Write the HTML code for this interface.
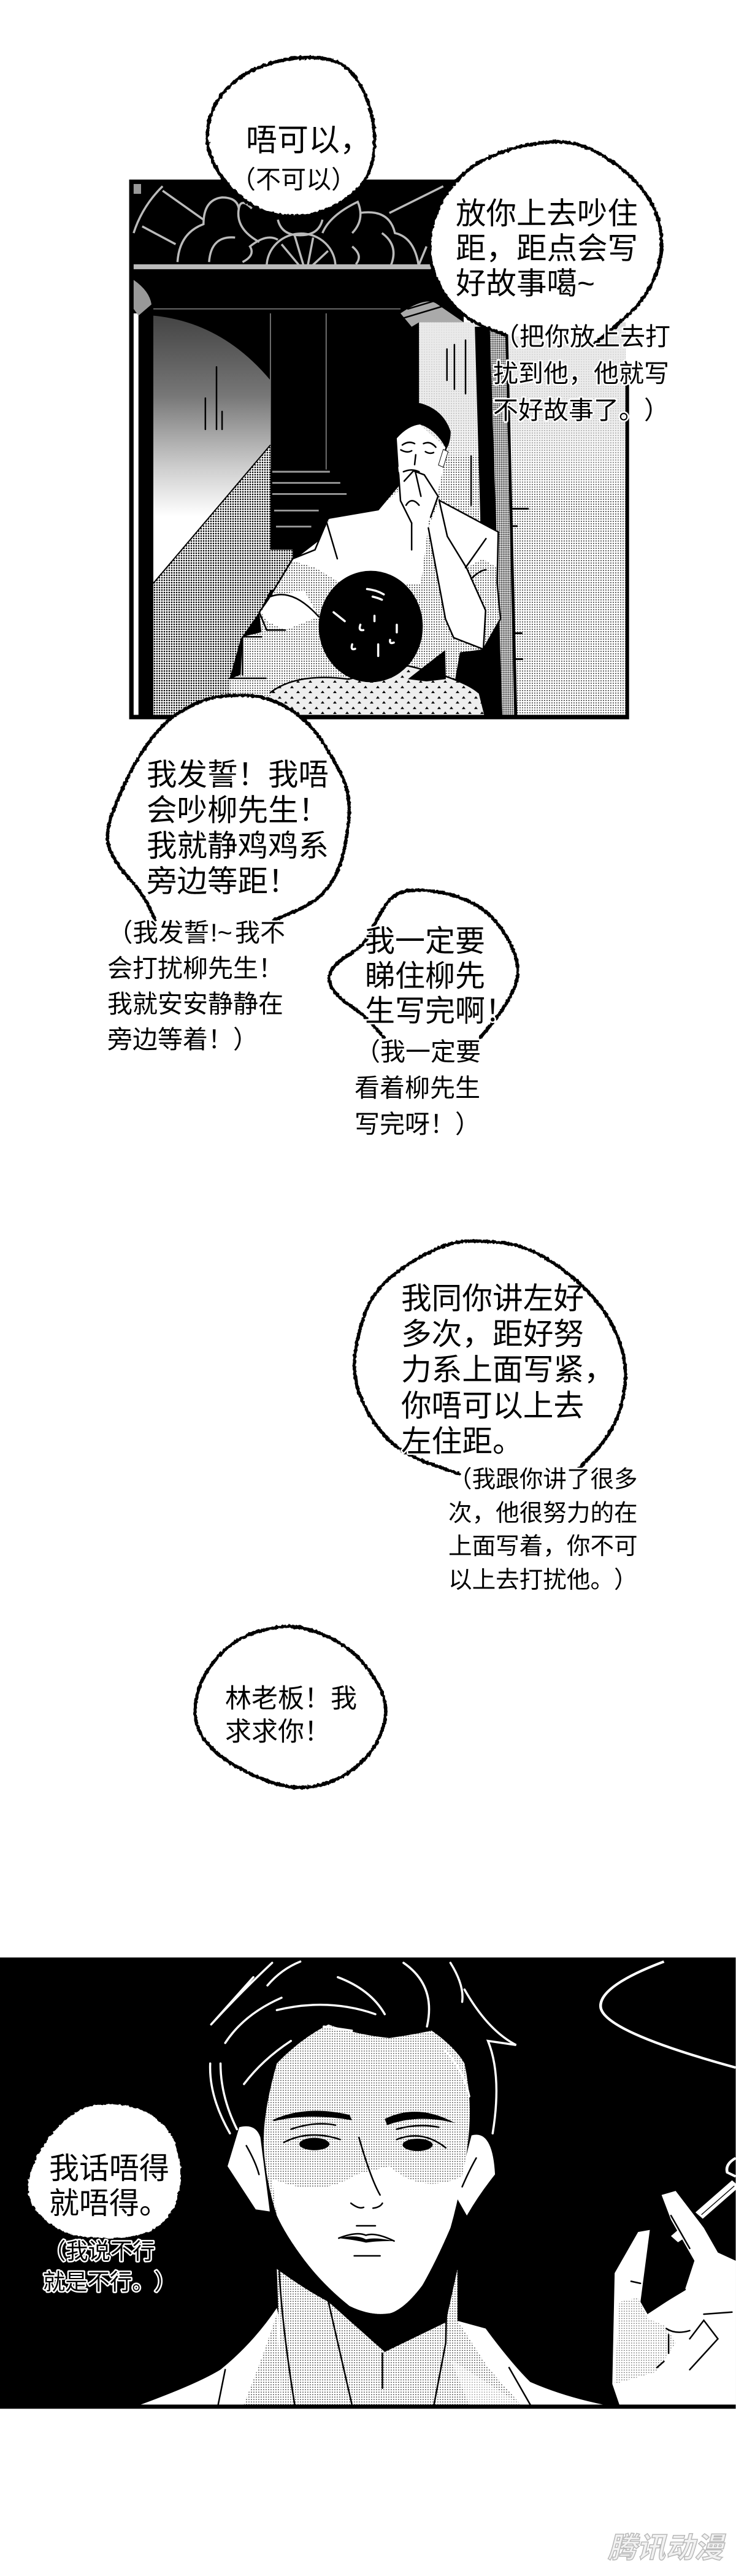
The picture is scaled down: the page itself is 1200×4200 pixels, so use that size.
<!DOCTYPE html>
<html lang="zh">
<head>
<meta charset="utf-8">
<title>Comic page</title>
<style>
html,body{margin:0;padding:0;background:#fff}
svg{display:block}
text{font-family:"Liberation Sans","Noto Sans CJK SC",sans-serif;fill:#000;text-spacing-trim:space-all;font-kerning:none}
.h{paint-order:stroke;stroke:#fff;stroke-width:5px;stroke-linejoin:round}
.bo{fill:none;stroke:#000;stroke-width:5.5;vector-effect:non-scaling-stroke;stroke-linecap:round}
.ln{fill:none;stroke:#000;stroke-width:2.5;vector-effect:non-scaling-stroke;stroke-linecap:round}
.gl{fill:none;stroke:#bbb;stroke-width:3.5;vector-effect:non-scaling-stroke}
.wl{fill:none;stroke:#fff;stroke-width:3.5;vector-effect:non-scaling-stroke;stroke-linecap:round}
</style>
</head>
<body>
<svg xmlns="http://www.w3.org/2000/svg" width="1200" height="4200" viewBox="0 0 1200 4200">
<defs>
<filter id="rough" x="-10%" y="-10%" width="120%" height="120%">
<feTurbulence type="fractalNoise" baseFrequency="0.12" numOctaves="3" seed="4"/>
<feDisplacementMap in="SourceGraphic" scale="8" xChannelSelector="R" yChannelSelector="G"/>
</filter>
<pattern id="l1" width="4" height="4" patternUnits="userSpaceOnUse" patternTransform="scale(1.65 1.375)"><rect width="4" height="4" fill="#fff"/><circle cx="2" cy="2" r=".92" fill="#000"/></pattern>
<pattern id="m1" width="4" height="4" patternUnits="userSpaceOnUse" patternTransform="scale(1.65 1.375)"><rect width="4" height="4" fill="#fff"/><circle cx="2" cy="2" r="1.3" fill="#000"/></pattern>
<pattern id="d1" width="3" height="3" patternUnits="userSpaceOnUse" patternTransform="scale(1.65 1.375)"><rect width="3" height="3" fill="#fff"/><circle cx="1.5" cy="1.5" r="1.05" fill="#000"/></pattern>
<pattern id="t1" width="20" height="17" patternUnits="userSpaceOnUse" patternTransform="scale(1.65 1.375)"><rect width="20" height="17" fill="#eee"/><path d="M3 8l3-4 3 4zM13 16l3-4 3 4z" fill="#000"/></pattern>
<pattern id="l4" width="4" height="4" patternUnits="userSpaceOnUse" patternTransform="scale(1.307 1.493)"><rect width="4" height="4" fill="#fff"/><circle cx="2" cy="2" r=".78" fill="#000"/></pattern>
<linearGradient id="wall" x1="0" y1="625" x2="0" y2="1075" gradientUnits="userSpaceOnUse"><stop offset="0" stop-color="#444"/><stop offset=".4" stop-color="#777"/><stop offset=".75" stop-color="#ccc"/><stop offset="1" stop-color="#fff"/></linearGradient>
<linearGradient id="fade" x1="0" y1="640" x2="0" y2="1040" gradientUnits="userSpaceOnUse"><stop offset="0" stop-color="#e8e8e8" stop-opacity=".95"/><stop offset=".55" stop-color="#e8e8e8" stop-opacity=".75"/><stop offset="1" stop-color="#fff" stop-opacity="0"/></linearGradient>
</defs>

<rect width="1200" height="4200" fill="#fff"/>

<!-- PANEL 1 -->
<g transform="translate(150 60) scale(.606 .7273)">
<path d="M100 320H1000V640H1435V780H1445V1530H100Z" fill="#000"/>
<rect x="112" y="620" width="13" height="900" fill="#fff"/>
<rect x="112" y="330" width="20" height="22" fill="#999"/>
<!-- fanlight -->
<path class="gl" d="M112 440Q135 380 190 335M135 425L225 465M190 345L300 410M230 505Q235 440 300 420Q300 365 350 360Q390 360 395 385Q385 430 450 460M315 505Q320 445 385 450M395 385Q400 360 430 385M500 410Q510 445 560 445Q610 445 620 410M620 440Q640 400 715 370Q735 410 700 440M720 395Q800 385 815 440Q870 450 880 520M800 520Q830 470 780 440M800 395L945 335M880 510L900 470"/>
<path class="gl" d="M470 515A90 72 0 0 1 655 515M560 515L510 465M570 515L545 445M580 515L595 450M590 515L635 480M405 505Q440 490 425 470Q470 440 500 455M700 470Q730 490 710 510"/>
<rect x="112" y="510" width="800" height="11" fill="#bbb"/>
<path d="M112 545Q155 570 160 600L125 625L112 610Z" fill="#999"/>
<path d="M165 610H830" stroke="#888" stroke-width="2" fill="none"/>
<path d="M480 620V970M630 620V970" stroke="#777" stroke-width="3" fill="none"/>
<!-- left wall -->
<path d="M165 625Q350 640 480 770V915L165 1225Z" fill="url(#wall)"/>
<path d="M165 1225L480 915V1240L450 1290L400 1350L370 1440V1520H165Z" fill="url(#m1)"/>
<path d="M165 1225L480 915" stroke="#000" stroke-width="3" fill="none"/>
<path class="ln" d="M335 740V880M305 810V880M350 840V880"/>
<!-- stairs -->
<path d="M485 975H640M485 1000H668M485 1025H685M490 1062H610M495 1098H590" stroke="#999" stroke-width="4" fill="none"/>
<rect x="480" y="1150" width="60" height="90" fill="url(#m1)"/>
<!-- steps -->
<path d="M405 1345L480 1330H620V1440H480V1520H370V1440L400 1430Z" fill="url(#l1)"/>
<path class="ln" d="M405 1345V1430M370 1438H480M405 1345H470"/>
<!-- column -->
<rect x="880" y="640" width="165" height="470" fill="url(#l1)"/>
<rect x="880" y="640" width="165" height="300" fill="url(#fade)"/>
<path class="ln" d="M955 700V770M975 690V790M1005 680V800M1020 940V1050"/>
<path d="M830 620Q900 580 930 600L1000 640H880L860 650Z" fill="#aaa"/>
<path class="ln" d="M850 610L930 590M840 630L960 600"/>
<!-- right wall -->
<rect x="1112" y="650" width="323" height="870" fill="url(#l1)"/>
<rect x="1112" y="640" width="323" height="400" fill="url(#fade)"/>
<!-- dark band + strip + line -->
<path d="M1030 650H1070L1104 1520H1060Z" fill="#000"/>
<path d="M1070 650H1112L1136 1520H1104Z" fill="url(#d1)"/>
<path d="M1112 650H1119L1144 1520H1136Z" fill="#000"/>
<path d="M1125 1058H1175M1130 1097H1145M1135 1337H1158M1137 1395H1160" stroke="#000" stroke-width="4"/>
<!-- man shirt (dotted base) -->
<path d="M635 1080L770 1060L825 1005L934 1039L1093 1110L1090 1224L1099 1305L1053 1373L990 1380L960 1520H480L450 1290L480 1250L540 1170L600 1150Z" fill="url(#l1)"/>
<!-- shirt white areas -->
<path d="M640 1080L770 1060L835 1010L905 1095L885 1225L700 1240L600 1190L540 1175L610 1130Z" fill="#fff"/>
<path d="M934 1039L1093 1110L1090 1190L1050 1170L1008 1191L956 1120Z" fill="#fff"/>
<path d="M905 1101L934 1039L956 1120L1008 1191L1059 1286L1053 1373L973 1347L951 1305Z" fill="#fff"/>
<path d="M480 1255L570 1240L610 1300L520 1330L470 1310L455 1290Z" fill="#fff"/>
<path class="ln" d="M635 1080L600 1150L540 1170L475 1260L450 1290L470 1330L520 1330M630 1080L770 1060L825 1005M630 1085L660 1170M934 1039L1093 1110L1090 1224L1099 1305L1053 1373L973 1347L951 1305L905 1101M934 1039L956 1120L1008 1191L1059 1286L1053 1373M480 1255Q540 1235 610 1300M1005 1190L1060 1125M1020 1215Q1045 1195 1060 1195M860 1090V1150"/>
<!-- neck + face -->
<path d="M825 960L950 950L925 1040L880 1100L830 1020Z" fill="#fff"/>
<path d="M815 885Q850 872 882 869L951 921L945 959L908 987L860 1000L825 975Z" fill="#fff"/>
<path d="M785 880Q810 830 882 821Q945 835 965 885Q965 915 945 935L951 921Q925 880 882 869Q850 872 820 900L825 965Q790 920 785 880Z" fill="#000"/>
<path d="M945 925L958 930L945 965L932 960Z" fill="#fff" stroke="#000" stroke-width="1.5"/>
<path class="ln" d="M835 915Q852 905 868 912M892 912Q910 905 925 920M831 926Q848 934 860 928M897 930Q908 936 919 932M871 937L868 959M838 975Q860 967 880 975"/>
<path d="M840 996L865 973L894 982L931 1030L911 1077L900 1095L860 1080L840 1050Z" fill="#fff"/>
<path class="ln" d="M840 996L865 973L894 982L931 1030L911 1077M845 1050Q860 1030 880 1050M870 975L885 1030M825 980L830 1040L860 1090"/>
<!-- boy -->
<path d="M480 1470Q550 1425 690 1440L850 1410Q1000 1440 1040 1470L1055 1520H480Z" fill="url(#t1)"/>
<path d="M850 1440L950 1375L952 1440L900 1445Z" fill="#000"/>
<ellipse cx="750" cy="1322" rx="140" ry="125" fill="#000"/>
<path class="wl" d="M760 1298V1310M722 1318Q716 1332 730 1330M820 1318V1335M700 1362Q695 1376 708 1372M770 1362V1388M802 1352Q800 1362 812 1358M740 1238Q765 1240 785 1250M755 1255Q770 1258 780 1262M650 1290L680 1310"/>
<path class="ln" d="M480 1470Q550 1425 690 1440L850 1410Q1000 1440 1040 1470"/>
</g>

<!-- BUBBLES panel 1 -->
<g transform="translate(150 60) scale(.606 .7273)">
<path filter="url(#rough)" class="bo" style="fill:#fff" d="M620 48Q680 55 710 92Q740 130 752 175Q765 220 757 265Q750 310 720 337Q690 365 640 385Q590 405 530 402Q470 400 425 375Q380 350 350 315Q320 280 312 245Q305 210 322 170Q340 130 385 100Q430 70 495 56Q560 42 620 48Z"/>
<g filter="url(#rough)">
<path fill="#fff" d="M1230 236Q1290 232 1345 253Q1400 275 1447 312Q1495 350 1515 390Q1535 430 1532 472Q1530 515 1505 555Q1480 595 1440 625Q1400 655 1370 675Q1340 695 1225 682Q1110 670 1055 650Q1000 630 965 595Q930 560 915 515Q900 470 915 425Q930 380 957 347Q985 315 1022 292Q1060 270 1115 255Q1170 240 1230 236Z"/>
<path class="bo" d="M1110 668L1055 650Q1000 630 965 595Q930 560 915 515Q900 470 915 425Q930 380 957 347Q985 315 1022 292Q1060 270 1115 255Q1170 240 1230 236Q1290 232 1345 253Q1400 275 1447 312Q1495 350 1515 390Q1535 430 1532 472Q1530 515 1505 555Q1480 595 1440 625Q1400 655 1350 690"/>
</g>
</g>

<!-- Bubble 3 + 4 -->
<g transform="translate(100 1120) scale(.51)">
<g filter="url(#rough)">
<path fill="#fff" d="M590 27Q660 30 720 65Q780 100 820 155Q860 210 895 280Q930 350 917 445Q905 540 882 590Q860 640 825 670Q790 700 735 722Q680 745 490 745Q300 745 280 702Q260 660 215 610Q170 560 155 520Q140 480 155 430Q170 380 205 305Q240 230 285 170Q330 110 380 80Q430 50 475 37Q520 25 590 27Z"/>
<path class="bo" d="M300 745L280 702Q260 660 215 610Q170 560 155 520Q140 480 155 430Q170 380 205 305Q240 230 285 170Q330 110 380 80Q430 50 475 37Q520 25 590 27Q660 30 720 65Q780 100 820 155Q860 210 895 280Q930 350 917 445Q905 540 882 590Q860 640 825 670Q790 700 735 722L680 745"/>
</g>
<g filter="url(#rough)">
<path fill="#fff" d="M1215 657Q1280 670 1330 700Q1380 730 1415 785Q1450 840 1457 885Q1465 930 1440 980Q1415 1030 1377 1075Q1340 1120 1185 1120Q1030 1120 1000 1085Q970 1050 925 1020Q880 990 864 960Q848 930 864 905Q880 880 925 852Q970 825 990 782Q1010 740 1035 700Q1060 660 1105 652Q1150 645 1215 657Z"/>
<path class="bo" d="M1030 1120L1000 1085Q970 1050 925 1020Q880 990 864 960Q848 930 864 905Q880 880 925 852Q970 825 990 782Q1010 740 1035 700Q1060 660 1105 652Q1150 645 1215 657Q1280 670 1330 700Q1380 730 1415 785Q1450 840 1457 885Q1465 930 1440 980Q1415 1030 1377 1075L1340 1120"/>
</g>
</g>

<!-- Bubble 5 + 6 -->
<g transform="translate(300 2000) scale(.51 .638)">
<path filter="url(#rough)" class="bo" d="M880 632L790 607Q700 582 650 541Q600 500 570 445Q540 390 545 340Q550 290 575 230Q600 170 660 130Q720 90 785 65Q850 40 900 37Q950 35 1025 42Q1100 50 1180 92Q1260 135 1315 187Q1370 240 1395 300Q1420 360 1407 420Q1395 480 1367 517Q1340 555 1300 587L1260 620"/>
<path filter="url(#rough)" class="bo" d="M350 1022Q400 1025 465 1050Q530 1075 575 1117Q620 1160 637 1200Q655 1240 632 1290Q610 1340 555 1377Q500 1415 435 1427Q370 1440 310 1427Q250 1415 185 1387Q120 1360 82 1327Q45 1295 37 1257Q30 1220 50 1175Q70 1130 120 1090Q170 1050 235 1035Q300 1020 350 1022Z"/>
</g>

<!-- PANEL 2 -->
<g transform="translate(0 3150) scale(.765 .67)">
<rect x="0" y="62" width="1568" height="1098" fill="#000"/>
<!-- shirt -->
<path d="M300 1150Q420 1100 470 1065Q540 1000 590 915L640 1150Z" fill="#fff"/>
<path d="M955 940L1035 965Q1090 1050 1130 1095Q1200 1130 1285 1150H950Z" fill="#fff"/>
<!-- neck -->
<path d="M590 820Q650 870 700 900L820 1022L950 950L975 820V945L1040 1060L1110 1150H600Z" fill="url(#l4)"/>
<path d="M520 1150L560 1030L590 930L600 1150Z" fill="url(#l4)"/>
<path d="M960 1040L1110 1150H1000Z" fill="#fff" opacity=".5"/>
<!-- ears -->
<path d="M510 475Q545 465 555 500L575 680L545 675L485 570Z" fill="#fff"/>
<path d="M1005 495Q1050 480 1055 590Q1020 640 995 690L975 650L990 560Z" fill="#fff"/>
<path d="M525 520Q545 560 552 590M1015 550Q1000 580 985 620" class="ln"/>
<!-- face -->
<path d="M590 320Q640 260 700 225Q760 250 830 258Q880 250 920 240Q970 280 990 320Q1005 400 1000 480Q995 550 985 590Q975 660 960 720Q930 800 900 860Q860 920 830 928Q790 935 745 910Q690 860 650 800Q610 740 590 690Q565 600 562 520Q560 440 590 320Z" fill="url(#l4)"/>
<path d="M580 600Q680 650 760 590L830 570Q900 640 985 595Q975 660 960 720Q930 800 900 860Q860 920 830 928Q790 935 745 910Q690 860 650 800Q610 740 590 690Z" fill="#fff"/>
<!-- chin shadow -->
<path d="M728 918Q790 940 830 930Q870 910 900 860L955 770L945 945L820 1022Z" fill="#000"/>
<!-- hair lines -->
<path class="wl" d="M450 225Q510 150 580 75M448 320Q445 400 490 490M590 190Q700 160 800 200M720 110Q790 140 820 200M860 75Q930 130 910 230M990 140Q1040 240 1100 275L1040 265Q1070 350 1050 490M470 320Q470 400 505 480M520 370Q560 310 620 265M960 75Q990 130 985 170M540 110L450 225M480 270Q520 200 600 160M640 72Q600 90 570 130"/>
<path class="wl" d="M950 290Q990 340 1000 400M690 230L750 240"/>
<!-- features -->
<path d="M580 458Q650 420 745 445L750 458Q660 440 585 460Z" fill="#000"/>
<path d="M820 455Q890 415 970 465Q890 442 825 470Z" fill="#000"/>
<ellipse cx="670" cy="516" rx="32" ry="15" fill="#000"/>
<ellipse cx="890" cy="518" rx="32" ry="15" fill="#000"/>
<path class="ln" d="M605 512Q660 480 725 505M845 505Q900 480 950 525M620 480Q670 460 715 470M845 480Q890 465 935 475M765 500Q790 600 810 640M748 660Q765 675 775 670M795 672Q810 670 815 660M760 715H800M755 788H810M722 745Q760 728 780 738Q800 730 840 752"/>
<path d="M722 745Q760 735 780 748Q800 742 840 752Q800 752 780 756Q760 750 722 745Z" fill="#000"/>
<!-- neck lines -->
<path class="ln" d="M595 820Q600 950 628 1150M700 900Q730 1050 750 1150M955 750L950 1000L925 1150M815 1025V1110M1085 1060L1130 1150M480 1065L465 1150"/>
<!-- hand -->
<path d="M1310 830L1360 730L1385 725L1365 900L1380 930L1460 870L1480 800L1430 700L1410 640L1440 630L1500 720L1530 780L1568 800V1150H1320L1305 1100Z" fill="#fff"/>
<path d="M1320 900L1360 890L1380 940L1420 960L1440 1000L1400 1070L1310 1100Z" fill="url(#l4)" opacity=".7"/>
<path d="M1430 740L1450 720L1465 740L1445 755Z" fill="#fff"/>
<path d="M1490 690L1568 612" stroke="#fff" stroke-width="22" fill="none"/>
<path d="M1495 688L1565 618" stroke="#000" stroke-width="2" fill="none"/>
<path class="ln" d="M1345 850L1365 855M1380 925L1460 870M1500 930L1560 925M1420 965Q1440 980 1470 970M1425 980V1025M1470 990L1500 945L1530 990L1470 1065M1400 1060L1415 1045M1430 690L1470 770"/>
<path d="M1568 550Q1545 565 1550 585L1568 595" stroke="#fff" stroke-width="6" fill="none"/>
<!-- smoke -->
<path d="M1415 72Q1280 130 1280 180Q1280 240 1568 330" stroke="#fff" stroke-width="6" fill="none"/>
<rect x="0" y="1150" width="1568" height="10" fill="#000"/>
<path filter="url(#rough)" fill="#fff" d="M265 422Q310 430 340 460Q370 490 380 540Q390 590 380 640Q370 690 335 717Q300 745 230 745Q160 745 125 722Q90 700 72 670Q55 640 62 600Q70 560 90 525Q110 490 135 462Q160 435 190 425Q220 415 265 422Z"/>
</g>

<!-- TEXT -->
<text x="401" y="246" font-size="51">唔可以，</text>
<text x="376" y="307" font-size="41">（不可以）</text>

<text x="743" y="365" font-size="49.5">放你上去吵住</text>
<text x="743" y="422" font-size="49.5">距，距点会写</text>
<text x="743" y="479" font-size="49.5">好故事噶~</text>
<text class="h" x="806" y="563" font-size="41">（把你放上去打</text>
<text class="h" x="804" y="623" font-size="41">扰到他，他就写</text>
<text class="h" x="804" y="683" font-size="41">不好故事了。）</text>

<text x="239" y="1280" font-size="49.5">我发誓！我唔</text>
<text x="239" y="1338" font-size="49.5">会吵柳先生！</text>
<text x="239" y="1396" font-size="49.5">我就静鸡鸡系</text>
<text x="239" y="1454" font-size="49.5">旁边等距！</text>
<text class="h" x="175" y="1535" font-size="41.5">（我发誓</text>
<text class="h" x="343" y="1535" font-size="41.5">!~</text>
<text class="h" x="383" y="1535" font-size="41">我不</text>
<text x="175" y="1593" font-size="41">会打扰柳先生！</text>
<text x="175" y="1651" font-size="41">我就安安静静在</text>
<text x="175" y="1709" font-size="41">旁边等着！）</text>

<text class="h" x="595" y="1551" font-size="49">我一定要</text>
<text class="h" x="595" y="1608" font-size="49">睇住柳先</text>
<text class="h" x="595" y="1665" font-size="49">生写完啊！</text>
<text class="h" x="579" y="1729" font-size="41">（我一定要</text>
<text x="578" y="1788" font-size="41">看着柳先生</text>
<text x="578" y="1847" font-size="41">写完呀！）</text>

<text x="654" y="2134" font-size="49.7">我同你讲左好</text>
<text x="654" y="2192" font-size="49.7">多次，距好努</text>
<text x="654" y="2250" font-size="49.7">力系上面写紧，</text>
<text x="654" y="2309" font-size="49.7">你唔可以上去</text>
<text class="h" x="654" y="2367" font-size="49.7">左住距。</text>
<text class="h" x="731" y="2425" font-size="38.6">（我跟你讲了很多</text>
<text x="731" y="2480" font-size="38.6">次，他很努力的在</text>
<text x="731" y="2534" font-size="38.6">上面写着，你不可</text>
<text x="731" y="2589" font-size="38.6">以上去打扰他。）</text>

<text x="367" y="2784" font-size="43">林老板！我</text>
<text x="367" y="2838" font-size="43">求求你！</text>

<text x="80" y="3552" font-size="49">我话唔得</text>
<text x="80" y="3609" font-size="49">就唔得。</text>
<text class="h" x="71" y="3683" font-size="36.3">（我说不行</text>
<text class="h" x="70" y="3733" font-size="36.3">就是不行。）</text>

<text x="991" y="4170" font-size="47" font-weight="700" font-style="italic" style="fill:#f2f2f2;stroke:#b8b8b8;stroke-width:1.5px">腾讯动漫</text>
</svg>
</body>
</html>
